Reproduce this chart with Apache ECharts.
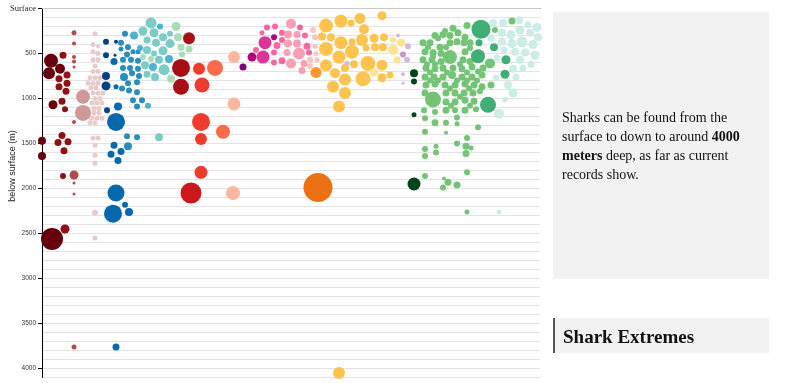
<!DOCTYPE html>
<html><head><meta charset="utf-8">
<script src="https://cdn.jsdelivr.net/npm/echarts@6/dist/echarts.min.js"></script>
<style>html,body{margin:0;padding:0;background:#fff;}#c{width:800px;height:383px;}</style>
</head><body><div id="c"></div>
<script>
// depth ticks (m below surface)
const depthTicks = [0, 500, 1000, 1500, 2000, 2500, 3000, 3500, 4000];
const tickLabels = ['Surface', '500', '1000', '1500', '2000', '2500', '3000', '3500', '4000'];

// each point: [swarm position, depth (m), bubble size]
const maroon = [[51,580,14],[49,720,12],[60,670,10],[53,1070,9],[42,1470,8],[42,1640,8],[52,2560,22]];
const darkRed = [[63,520,7],[67,740,7],[59,780,7],[67,830,7],[59,870,7],[66,920,7],[62,1030,7],[65,1120,6],[62,1410,7],[58,1490,7],[68,1480,7],[64,1580,7],[63,1860,6],[65,2450,9]];
const brick = [[74,270,5],[74,390,4],[74,540,4],[74,590,4],[74,650,3],[74,1260,4],[74,1850,9],[74,1940,3],[74,2060,3],[74,3760,5]];
const mauve = [[83,980,14],[83,1160,16]];
const blush = [[95,280,5],[93,400,5],[98,420,4],[93,480,5],[98,500,5],[93,570,5],[98,570,5],[95,640,5],[93,700,5],[98,700,5],
  [90,770,5],[95,770,5],[100,770,5],[88,830,5],[93,830,5],[98,830,5],[91,880,5],[96,880,5],
  [93,940,5],[98,940,5],[103,940,5],[95,1000,5],[100,1000,5],[92,1050,5],[97,1050,5],[102,1050,5],
  [94,1110,5],[99,1110,5],[94,1160,5],[99,1160,5],[92,1220,5],[97,1220,5],[102,1220,5],[90,1270,5],[95,1270,5],
  [93,1440,5],[98,1440,5],[95,1520,5],[95,1630,5],[95,1720,5],[95,2270,6],[95,2550,5]];
const navy = [[106,370,6],[116,370,4],[106,520,6],[115,520,3],[106,750,8],[106,860,9],[107,1130,6]];
const blue = [[114,590,7],[116,870,5],[118,1090,8],[116,1260,18],[114,1520,7],[111,1620,7],[121,1590,7],[118,1690,7],[116,2050,17],[113,2280,18],[125,2180,6],[129,2260,8],[116,3760,7]];
const midBlue = [[125,280,6],[121,380,6],[128,430,6],[121,450,5],[127,510,6],[133,480,5],[138,480,5],[123,570,6],[131,570,6],[138,580,6],[123,660,6],[130,660,6],[138,670,6],[124,760,8],[132,720,6],[139,750,6],[128,830,6],[137,820,6],[122,890,6],[129,910,6],[137,930,6],[133,1020,6],[142,1020,6],[137,1090,6],[127,1420,6],[137,1430,6],[128,1530,8]];
const skyBlue = [[134,300,8],[160,200,6],[140,440,6],[169,560,8],[153,650,8],[148,1080,6]];
const teal = [[151,160,11],[143,250,9],[154,270,9],[170,280,6],[163,320,8],[147,350,7],[156,380,8],[170,390,9],[147,460,8],[163,470,9],[154,500,6],[159,570,8],[145,630,8],[164,680,11],[147,730,7],[155,760,8],[159,1430,8]];
const mint = [[176,200,9],[178,320,8],[181,430,7],[189,450,7],[182,510,6],[143,540,6],[151,560,6],[171,780,8]];
const deepRed = [[189,330,12],[181,660,18],[181,870,16]];
const crimson = [[191,2050,21]];
const red = [[199,670,12],[202,850,15],[201,1260,18],[201,1450,12],[201,1820,13]];
const coral = [[215,660,16],[223,1370,14]];
const salmon = [[234,540,12],[234,1060,13],[233,2050,14]];
const violet = [[243,650,7]];
const plum = [[252,540,9],[274,320,6]];
const magenta = [[265,380,13],[263,540,13]];
const pink = [[267,210,6],[275,200,6],[262,270,5],[282,270,6],[256,460,6],[277,410,7],[282,350,6],[274,490,6],[274,600,6],[282,580,7],[300,210,6],[305,300,6],[307,420,7],[309,490,6]];
const rose = [[291,170,10],[288,290,8],[297,290,7],[288,390,8],[297,390,8],[287,490,7],[299,500,12],[291,610,10],[304,610,7],[302,690,7]];
const blossom = [[313,240,6],[315,320,6],[315,420,5],[316,500,5],[310,570,6],[317,570,5],[310,640,6]];
const amber = [[326,190,14],[341,140,13],[351,160,7],[360,110,11],[382,80,9],[364,230,10],[322,310,8],[331,320,8],[341,380,13],[352,370,7],[362,350,12],[374,330,9],[384,320,8],
  [326,450,14],[339,540,13],[352,480,14],[366,440,7],[375,430,8],[383,430,8],[368,610,15],[354,620,8],[326,630,12],[345,660,8],[335,720,10],[382,630,11],
  [390,740,7],[345,790,12],[363,780,15],[382,770,9],[333,870,12],[345,940,12],[339,1090,12],[339,4050,12]];
const cream = [[393,350,6],[401,380,8],[393,460,10],[397,570,7],[374,710,8]];
const lilac = [[398,300,4],[408,420,6],[407,570,6],[403,730,4],[403,830,3],[347,610,5]];
const orchid = [[403,510,6]];
const orange = [[316,710,11]];
const burntOrange = [[318,1990,29]];
const forest = [[414,720,8],[414,810,6],[414,1180,5],[414,1950,13]];
const green = [[453,220,7],[467,190,7],[512,140,7],[495,240,6],[445,250,6],[438,330,6],
  [435,300,7],[443,290,7],[450,300,7],[458,270,7],[465,320,7],
  [423,380,7],[430,380,7],[440,430,7],[450,380,7],[457,370,7],[464,380,7],[470,380,7],[446,430,6],[470,440,6],[428,430,6],
  [425,480,7],[433,490,7],[441,500,7],[465,480,7],[450,540,14],[433,530,6],
  [423,570,7],[432,570,7],[441,590,7],[463,570,7],[470,590,7],[427,620,6],[460,620,6],[435,620,6],
  [426,660,7],[435,670,7],[443,660,7],[453,660,7],[462,670,7],[472,650,7],[483,660,7],[490,610,10],[447,710,6],[430,710,6],[467,710,6],[478,700,6],
  [425,760,7],[434,760,7],[443,760,7],[452,740,8],[462,760,7],[472,760,7],[482,740,7],[438,800,6],[457,800,6],[477,800,6],[430,800,6],[467,800,6],
  [426,850,7],[435,840,7],[445,850,7],[455,850,7],[465,840,7],[474,850,7],[482,870,7],[491,850,7],[469,890,6],[450,890,6],
  [425,940,7],[446,940,7],[455,940,7],[464,940,7],[473,940,7],[433,1010,16],[460,980,6],[480,920,6],
  [446,1040,7],[455,1040,7],[465,1020,7],[474,1030,7],[451,1080,6],[470,1080,6],
  [424,1130,6],[435,1150,6],[446,1130,7],[455,1130,6],[465,1130,7],[476,1120,6],
  [425,1220,6],[435,1270,7],[446,1270,6],[457,1210,6],[457,1280,5],[478,1320,6],[425,1370,6],[446,1380,4],
  [467,1440,6],[457,1500,6],[466,1530,7],[471,1550,5],[425,1560,6],[436,1530,5],[425,1640,6],[436,1600,6],[466,1610,7],
  [467,1820,6],[425,1860,6],[444,1890,4],[448,1930,7],[443,1990,6],[457,1960,7],[467,2260,5]];
const jade = [[481,230,19],[479,380,7],[478,530,14],[494,430,8],[506,570,9],[505,730,9],[488,1070,16]];
const seafoam = [[493,160,8],[503,160,8],[519,130,8],[528,180,7],[537,210,9],[502,270,8],[511,290,9],[520,240,9],[530,270,8],[538,320,8],
  [491,330,7],[502,370,8],[512,390,9],[522,370,11],[533,400,9],[504,460,7],[515,480,8],[525,490,8],[535,520,9],[497,550,7],
  [520,570,8],[531,620,7],[513,670,8],[523,660,7],[496,770,6],[516,760,7],[508,850,8],[513,940,9],[505,1010,6],[499,1170,10],[499,2260,5]];

const groups = [
  [maroon,'#67000d'],[darkRed,'#8e1116'],[brick,'#b24a4e'],[mauve,'#cf9999'],[blush,'#e9caca'],
  [navy,'#084081'],[blue,'#0868ac'],[midBlue,'#2b8cbe'],[skyBlue,'#4eb3d3'],[teal,'#7bccc4'],[mint,'#a8ddb5'],
  [deepRed,'#a50f15'],[crimson,'#cb181d'],[red,'#ef3b2c'],[coral,'#fb6a4a'],[salmon,'#fcb79e'],
  [violet,'#7a0177'],[plum,'#ae017e'],[magenta,'#dd3497'],[pink,'#f768a1'],[rose,'#fa9fb5'],[blossom,'#fcc5c0'],
  [amber,'#fec44f'],[cream,'#fee391'],[lilac,'#d4b9da'],[orchid,'#c994c7'],[orange,'#fe9929'],[burntOrange,'#ec7014'],
  [forest,'#00441b'],[green,'#74c476'],[jade,'#41ae76'],[seafoam,'#ccece6']
];

const chart = echarts.init(document.getElementById('c'), null, {renderer: 'canvas'});
chart.setOption({
  animation: false,
  grid: {left: 42, right: 260, top: 8.5, bottom: 5.5},
  xAxis: [
    {type: 'value', min: 42, max: 540, position: 'top',
     axisLine: {show: true, lineStyle: {color: '#000', width: 1}},
     axisTick: {show: false}, axisLabel: {show: false}, splitLine: {show: false}},
    {type: 'value', min: 42, max: 540, position: 'bottom',
     axisLine: {show: true, lineStyle: {color: '#c8c8c8', width: 1}},
     axisTick: {show: false}, axisLabel: {show: false}, splitLine: {show: false}}
  ],
  yAxis: [
    {
      type: 'value', inverse: true, min: 0, max: 4100, interval: 100,
      axisLine: {show: false}, axisTick: {show: false}, axisLabel: {show: false},
      splitLine: {show: true, lineStyle: {color: '#e3e3e3', width: 1}}
    },
    {
      type: 'value', inverse: true, min: 0, max: 4100, interval: 100, position: 'left',
      axisLine: {show: true, lineStyle: {color: '#000', width: 1}},
      axisTick: {show: true, length: 4, lineStyle: {color: '#000'}, customValues: depthTicks},
      axisLabel: {
        customValues: depthTicks, margin: 6,
        formatter: v => { const i = depthTicks.indexOf(v); const t = i >= 0 ? tickLabels[i] : ''; return i === 0 ? '{s|' + t + '}' : '{n|' + t + '}'; },
        rich: {
          s: {fontFamily: 'Liberation Serif', fontSize: 8.5, color: '#222'},
          n: {fontFamily: 'Liberation Sans', fontSize: 6.5, color: '#333'}
        }
      },
      splitLine: {show: false}
    }
  ],
  series: groups.map(([data, color]) => ({
    type: 'scatter', data: data, clip: false, yAxisIndex: 0,
    symbolSize: v => v[2],
    itemStyle: {color: color, opacity: 1},
    emphasis: {disabled: true}
  })),
  graphic: [
    {type: 'text', x: 13, y: 166, rotation: Math.PI / 2,
     style: {text: 'below surface (m)', fontFamily: 'Liberation Sans', fontSize: 9, fill: '#222', textAlign: 'center', textVerticalAlign: 'middle'}},
    {type: 'rect', shape: {x: 553, y: 12, width: 216, height: 267}, style: {fill: '#f2f2f2'}},
    {type: 'text', x: 562, y: 108.5,
     style: {
       text: '{a|Sharks can be found from the}\n{a|surface to down to around }{b|4000}\n{b|meters}{a| deep, as far as current}\n{a|records show.}',
       textAlign: 'left', textVerticalAlign: 'top',
       rich: {
         a: {fontFamily: 'Liberation Serif', fontSize: 14, lineHeight: 19.2, fill: '#111', color: '#111'},
         b: {fontFamily: 'Liberation Serif', fontSize: 14, fontWeight: 'bold', lineHeight: 19.2, fill: '#111', color: '#111'}
       }
     }},
    {type: 'rect', shape: {x: 553, y: 318, width: 216, height: 35}, style: {fill: '#f2f2f2'}},
    {type: 'rect', shape: {x: 553, y: 318, width: 2, height: 35}, style: {fill: '#555'}},
    {type: 'text', x: 563, y: 338,
     style: {text: 'Shark Extremes', fontFamily: 'Liberation Serif', fontSize: 19, fontWeight: 'bold', fill: '#111', textAlign: 'left', textVerticalAlign: 'middle'}}
  ]
});
</script>
</body></html>
